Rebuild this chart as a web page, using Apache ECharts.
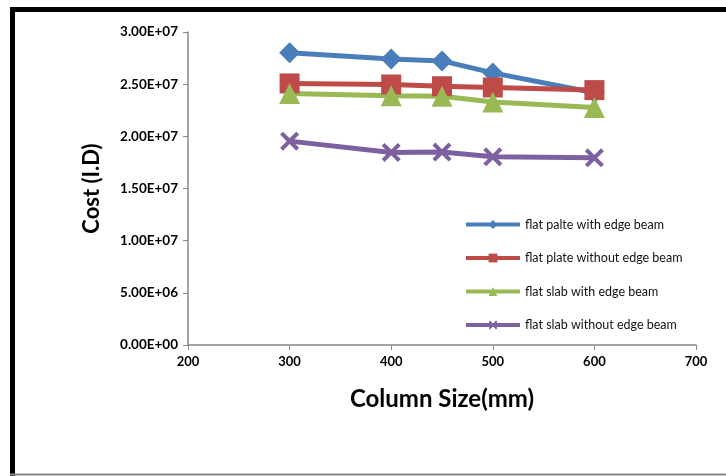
<!DOCTYPE html>
<html>
<head>
<meta charset="utf-8">
<script src="https://cdn.jsdelivr.net/npm/echarts@6/dist/echarts.min.js"></script>
<style>
  html, body { margin: 0; padding: 0; background: #fff; }
  #chart { width: 726px; height: 476px; }
</style>
</head>
<body>
<div id="chart"></div>
<script>
// column sizes (mm)
const columnSize = [300, 400, 450, 500, 600]
// cost values (I.D)
const flatPlateWithEdge = [2.80e7, 2.742e7, 2.723e7, 2.608e7, 2.417e7]
const flatPlateWithoutEdge = [2.507e7, 2.497e7, 2.48e7, 2.468e7, 2.443e7]
const flatSlabWithEdge = [2.41e7, 2.388e7, 2.385e7, 2.33e7, 2.277e7]
const flatSlabWithoutEdge = [1.954e7, 1.846e7, 1.849e7, 1.804e7, 1.794e7]

const seriesNames = [
  'flat palte with edge beam',
  'flat plate without edge beam',
  'flat slab with edge beam',
  'flat slab without edge beam'
]

const font = 'Lato, "Open Sans", sans-serif'
const crossSymbol = 'path://M0,1.5 L1.5,0 L5,3.5 L8.5,0 L10,1.5 L6.5,5 L10,8.5 L8.5,10 L5,6.5 L1.5,10 L0,8.5 L3.5,5 Z'

function pairs(values) {
  return columnSize.map((x, i) => [x, values[i]])
}

function fmtExp(v) {
  return v.toExponential(2).toUpperCase().replace(/E\+(\d)$/, 'E+0$1')
}

const chart = echarts.init(document.getElementById('chart'))

const option = {
  animation: false,
  textStyle: { fontFamily: font },
  graphic: [
    { type: 'line', shape: { x1: 10, y1: 9.5, x2: 726, y2: 9.5 }, style: { stroke: '#000', lineWidth: 5 } },
    { type: 'line', shape: { x1: 12.5, y1: 7, x2: 12.5, y2: 476 }, style: { stroke: '#000', lineWidth: 5 } },
    { type: 'line', shape: { x1: 10, y1: 474.5, x2: 726, y2: 474.5 }, style: { stroke: '#888', lineWidth: 2 } }
  ],
  grid: { left: 188, right: 30, top: 32, bottom: 131 },
  legend: {
    orient: 'vertical',
    left: 464,
    top: 218,
    padding: 0,
    itemWidth: 54,
    itemHeight: 11,
    itemGap: 20.5,
    lineStyle: { width: 4 },
    textStyle: { fontSize: 12.5, color: '#111', fontFamily: font },
    data: seriesNames
  },
  xAxis: {
    type: 'value',
    min: 200,
    max: 700,
    interval: 100,
    name: 'Column Size(mm)',
    nameLocation: 'middle',
    nameGap: 42,
    nameTextStyle: { fontSize: 24, fontWeight: 'bold', color: '#000', fontFamily: font },
    axisLine: { lineStyle: { color: '#868686', width: 1.5 } },
    axisTick: { show: true, length: 5, lineStyle: { color: '#868686' } },
    axisLabel: { fontSize: 13, fontWeight: 'bold', color: '#000', margin: 10 },
    splitLine: { show: false }
  },
  yAxis: {
    type: 'value',
    min: 0,
    max: 3e7,
    interval: 5e6,
    name: 'Cost (I.D)',
    nameLocation: 'middle',
    nameGap: 85,
    nameTextStyle: { fontSize: 22, fontWeight: 'bold', color: '#000', fontFamily: font },
    axisLine: { show: true, lineStyle: { color: '#868686', width: 1.5 } },
    axisTick: { show: true, length: 5, lineStyle: { color: '#868686' } },
    axisLabel: { fontSize: 13.5, fontWeight: 'bold', color: '#000', margin: 10, formatter: fmtExp },
    splitLine: { show: false }
  },
  series: [
    {
      name: seriesNames[0],
      type: 'line',
      data: pairs(flatPlateWithEdge),
      symbol: 'diamond',
      symbolSize: 21,
      lineStyle: { width: 5, color: '#4a7ebb' },
      itemStyle: { color: '#4a7ebb' }
    },
    {
      name: seriesNames[1],
      type: 'line',
      data: pairs(flatPlateWithoutEdge),
      symbol: 'rect',
      symbolSize: 20,
      lineStyle: { width: 5, color: '#be4b48' },
      itemStyle: { color: '#be4b48' }
    },
    {
      name: seriesNames[2],
      type: 'line',
      data: pairs(flatSlabWithEdge),
      symbol: 'triangle',
      symbolSize: 21,
      lineStyle: { width: 5, color: '#98b954' },
      itemStyle: { color: '#98b954' }
    },
    {
      name: seriesNames[3],
      type: 'line',
      data: pairs(flatSlabWithoutEdge),
      symbol: crossSymbol,
      symbolSize: 19,
      lineStyle: { width: 5, color: '#7d60a0' },
      itemStyle: { color: '#7d60a0' }
    }
  ]
}

chart.setOption(option)
</script>
</body>
</html>
